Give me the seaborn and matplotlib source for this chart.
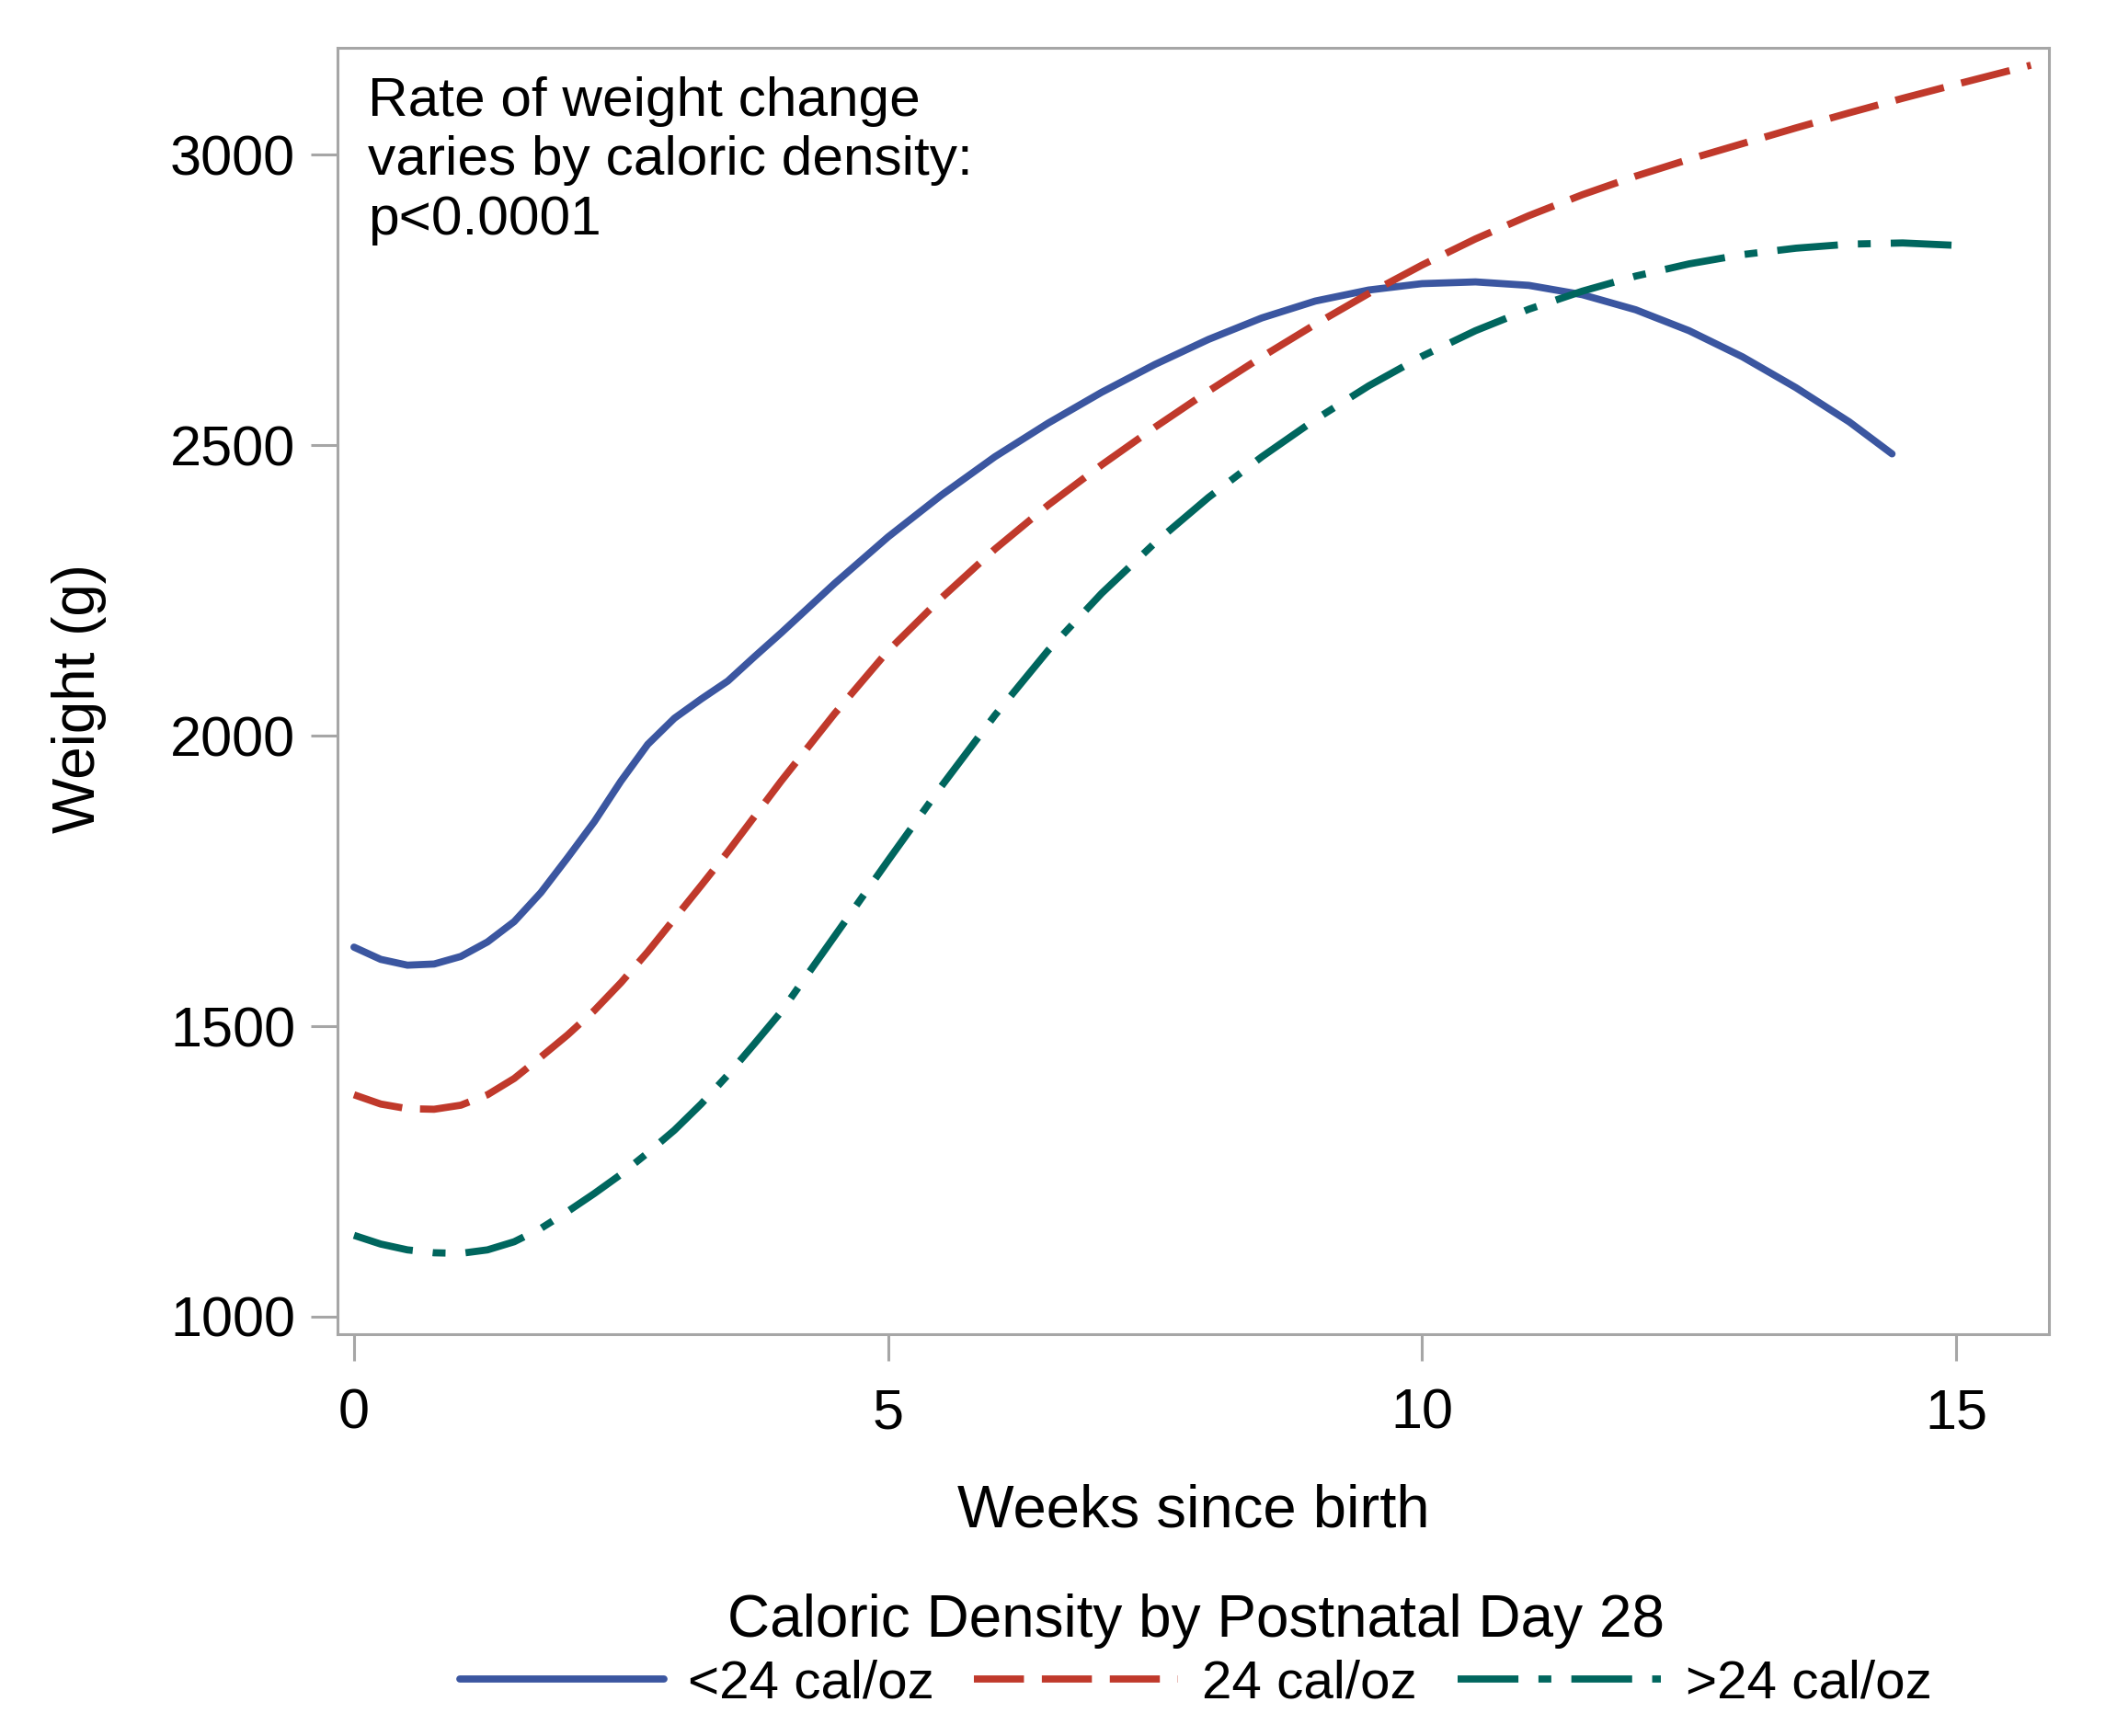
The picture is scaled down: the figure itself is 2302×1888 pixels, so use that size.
import numpy as np
import pandas as pd
import matplotlib
matplotlib.use("Agg")
import matplotlib.pyplot as plt
import seaborn as sns

# ---------------- data ----------------
groups = ["<24 cal/oz", "24 cal/oz", ">24 cal/oz"]

weeks_low = [0, 0.25, 0.5, 0.75, 1.0, 1.25, 1.5, 1.75, 2.0, 2.25, 2.5, 2.75,
             3.0, 3.25, 3.5, 3.75, 4.0, 4.5, 5.0, 5.5, 6.0, 6.5, 7.0, 7.5, 8.0,
             8.5, 9.0, 9.5, 10.0, 10.5, 11.0, 11.5, 12.0, 12.5, 13.0, 13.5,
             14.0, 14.4]
weight_low = [1636, 1615, 1605, 1607, 1620, 1645, 1680, 1730, 1790, 1852, 1922,
              1985, 2030, 2063, 2094, 2136, 2177, 2262, 2342, 2414, 2480, 2538,
              2591, 2639, 2682, 2719, 2748, 2767, 2778, 2781, 2775, 2759, 2733,
              2697, 2652, 2599, 2540, 2485]

weeks_mid = [0, 0.25, 0.5, 0.75, 1.0, 1.25, 1.5, 1.75, 2.0, 2.25, 2.5, 2.75,
             3.0, 3.25, 3.5, 4.0, 4.5, 5.0, 5.5, 6.0, 6.5, 7.0, 7.5, 8.0, 8.5,
             9.0, 9.5, 10.0, 10.5, 11.0, 11.5, 12.0, 12.5, 13.0, 13.5, 14.0,
             14.5, 15.0, 15.7]
weight_mid = [1382, 1366, 1358, 1357, 1364, 1382, 1410, 1447, 1485, 1527, 1575,
              1628, 1685, 1742, 1800, 1922, 2038, 2146, 2237, 2321, 2397, 2466,
              2531, 2593, 2652, 2708, 2761, 2810, 2855, 2895, 2931, 2963, 2992,
              3019, 3046, 3072, 3097, 3121, 3154]

weeks_high = [0, 0.25, 0.5, 0.75, 1.0, 1.25, 1.5, 1.75, 2.0, 2.25, 2.5, 2.75,
              3.0, 3.25, 3.5, 3.75, 4.0, 4.5, 5.0, 5.5, 6.0, 6.5, 7.0, 7.5, 8.0,
              8.5, 9.0, 9.5, 10.0, 10.5, 11.0, 11.5, 12.0, 12.5, 13.0, 13.5,
              14.0, 14.5, 15.1]
weight_high = [1140, 1125, 1115, 1110, 1109, 1115, 1129, 1152, 1181, 1212, 1245,
               1282, 1321, 1366, 1416, 1470, 1525, 1655, 1785, 1913, 2035, 2147,
               2245, 2332, 2410, 2480, 2544, 2602, 2653, 2697, 2734, 2765, 2791,
               2812, 2828, 2839, 2846, 2848, 2843]

x_ticks = [0, 5, 10, 15]
y_ticks = [1000, 1500, 2000, 2500, 3000]

annotation = "Rate of weight change\nvaries by caloric density:\np<0.0001"
legend_title = "Caloric Density by Postnatal Day 28"

# ---------------- build long table ----------------
df = pd.concat([
    pd.DataFrame({"week": weeks_low, "weight": weight_low, "group": groups[0]}),
    pd.DataFrame({"week": weeks_mid, "weight": weight_mid, "group": groups[1]}),
    pd.DataFrame({"week": weeks_high, "weight": weight_high, "group": groups[2]}),
], ignore_index=True)

palette = {groups[0]: "#3B56A0", groups[1]: "#C0392B", groups[2]: "#00665E"}
dashes = {groups[0]: "", groups[1]: (7.0, 2.5), groups[2]: (8.5, 2.8, 1.8, 2.8)}

sns.set_theme(style="white")
plt.rcParams["font.family"] = ["Liberation Sans", "DejaVu Sans"]
plt.rcParams["text.color"] = "black"
plt.rcParams["legend.labelcolor"] = "black"

fig = plt.figure(figsize=(23.02, 18.88), dpi=100)
ax = fig.add_axes([0.1594, 0.2315, 0.8085, 0.741])

sns.lineplot(data=df, x="week", y="weight", hue="group", style="group",
             hue_order=groups, style_order=groups,
             palette=palette, dashes=dashes, linewidth=5.6,
             estimator=None, errorbar=None, legend=False, ax=ax)
for ln in ax.get_lines():
    ln.set_solid_joinstyle("round")
    ln.set_dash_joinstyle("round")

ax.set_xlim(-0.155, 15.87)
ax.set_ylim(970, 3184)
ax.set_xticks(x_ticks)
ax.set_yticks(y_ticks)
ax.set_xticklabels([str(t) for t in x_ticks])
ax.set_yticklabels([str(t) for t in y_ticks])

for sp in ax.spines.values():
    sp.set_visible(True)
    sp.set_color("#A6A6A6")
    sp.set_linewidth(2.2)

ax.tick_params(axis="both", direction="out", length=21, width=2.2,
               color="#A6A6A6", labelsize=44, labelcolor="black",
               left=True, bottom=True)
ax.tick_params(axis="x", pad=21)
ax.tick_params(axis="y", pad=12)

ax.set_xlabel("Weeks since birth", fontsize=47, color="black")
ax.set_ylabel("Weight (g)", fontsize=46, color="black")
ax.xaxis.label.set_va("center")
ax.yaxis.label.set_va("center")
ax.xaxis.set_label_coords(0.5, -0.1375)
ax.yaxis.set_label_coords(-0.151, 0.494)

ax.text(0.0177, 0.978, annotation, transform=ax.transAxes, ha="left",
        va="top", fontsize=43.5, color="black", linespacing=1.22)

handles = ax.get_lines()[:3]
leg = fig.legend(handles, groups, loc="center", bbox_to_anchor=(0.5648, 0.049),
                 ncol=3, frameon=False, fontsize=42, title=legend_title,
                 title_fontsize=46, handlelength=3.8, handletextpad=0.45,
                 columnspacing=0.75, borderpad=0.2, labelspacing=0.2)
leg.get_title().set_color("black")

fig.savefig("out.png", dpi=100, facecolor="white")
